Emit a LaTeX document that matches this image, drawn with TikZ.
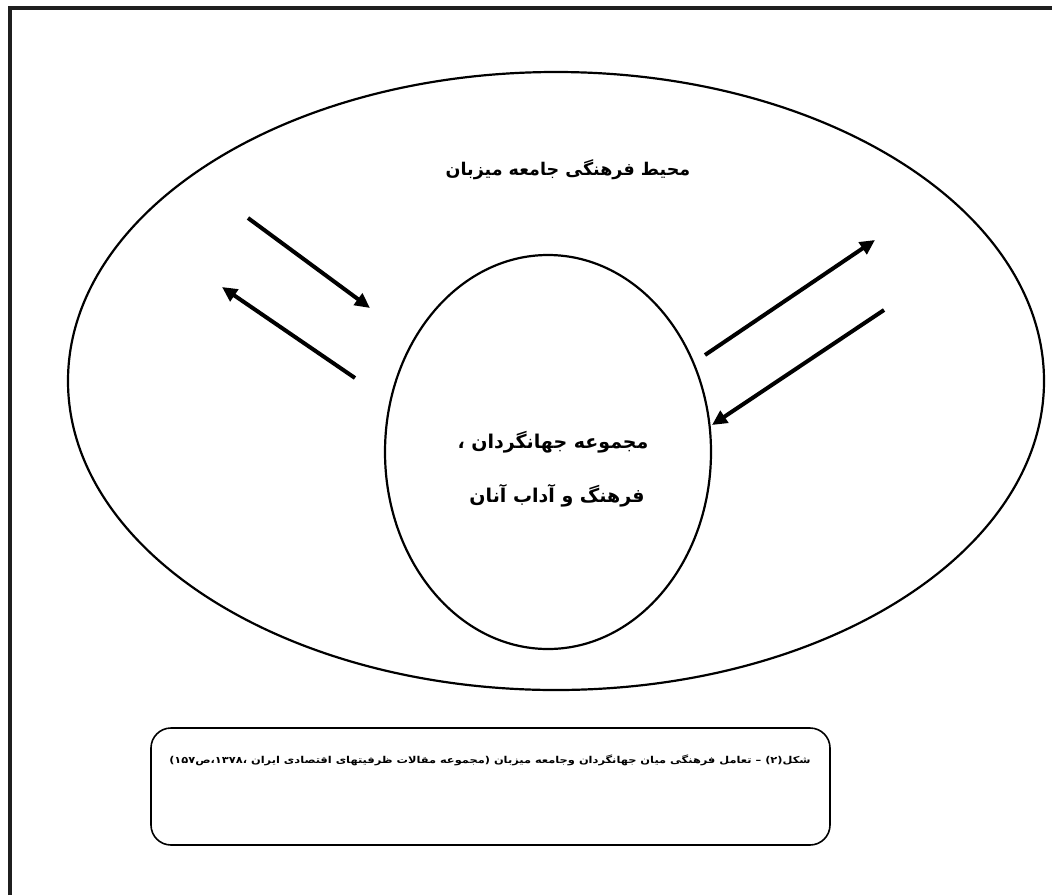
\documentclass[tikz,border=0pt]{standalone}
\usepackage{fontspec}
\TeXXeTstate=1
\newfontfamily\arabicfont[Script=Arabic]{DejaVu Sans}
\usetikzlibrary{arrows.meta}
\tikzset{
  frameline/.style={line width=4pt, color=black!88},
  flowarrow/.style={line width=4pt, -{Triangle[length=15pt,width=14pt]}},
  captionbox/.style={draw, line width=1.6pt, rounded corners=20pt},
  fatext/.style={font=\arabicfont\bfseries\fontsize{17.5}{20}\selectfont},
  fatextin/.style={font=\arabicfont\bfseries\fontsize{19}{22}\selectfont},
}
\begin{document}
\begin{tikzpicture}[x=1pt,y=-1pt]
\useasboundingbox (0,0) rectangle (1052,895);
\fill[white] (0,0) rectangle (1052,895);
% frame (top and left only)
\draw[frameline] (10,895) -- (10,8) -- (1052,8);
% ellipses
\draw[line width=2.2pt] (556,381) ellipse [x radius=488, y radius=309];
\draw[line width=2.2pt] (548,452) ellipse [x radius=163, y radius=197];
% texts
\node[fatext] (t1) at (568,170) {\beginR محیط فرهنگی جامعه میزبان\endR};
\node[fatextin] (t2) at (553,442) {\beginR مجموعه جهانگردان ،\endR};
\node[fatextin] (t3) at (557,496) {\beginR فرهنگ و آداب آنان\endR};
% arrows
\coordinate (a1s) at (248,218); \coordinate (a1e) at (370,308);
\coordinate (a2s) at (355,378); \coordinate (a2e) at (222,287);
\coordinate (a3s) at (705,355); \coordinate (a3e) at (875,240);
\coordinate (a4s) at (884,310); \coordinate (a4e) at (712,425);
\draw[flowarrow] (a1s) -- (a1e);
\draw[flowarrow] (a2s) -- (a2e);
\draw[flowarrow] (a3s) -- (a3e);
\draw[flowarrow] (a4s) -- (a4e);
% caption box
\draw[captionbox] (151,728) rectangle (830,845);
\node[font=\arabicfont\bfseries\fontsize{9.5}{11}\selectfont, xscale=1.2] (cap) at (490,760)
  {\beginR شکل(۲) – تعامل فرهنگی میان جهانگردان وجامعه میزبان (مجموعه مقالات ظرفیتهای اقتصادی ایران ،\beginL ۱۳۷۸\endL،ص\beginL ۱۵۷\endL)\endR};
\end{tikzpicture}
\end{document}
